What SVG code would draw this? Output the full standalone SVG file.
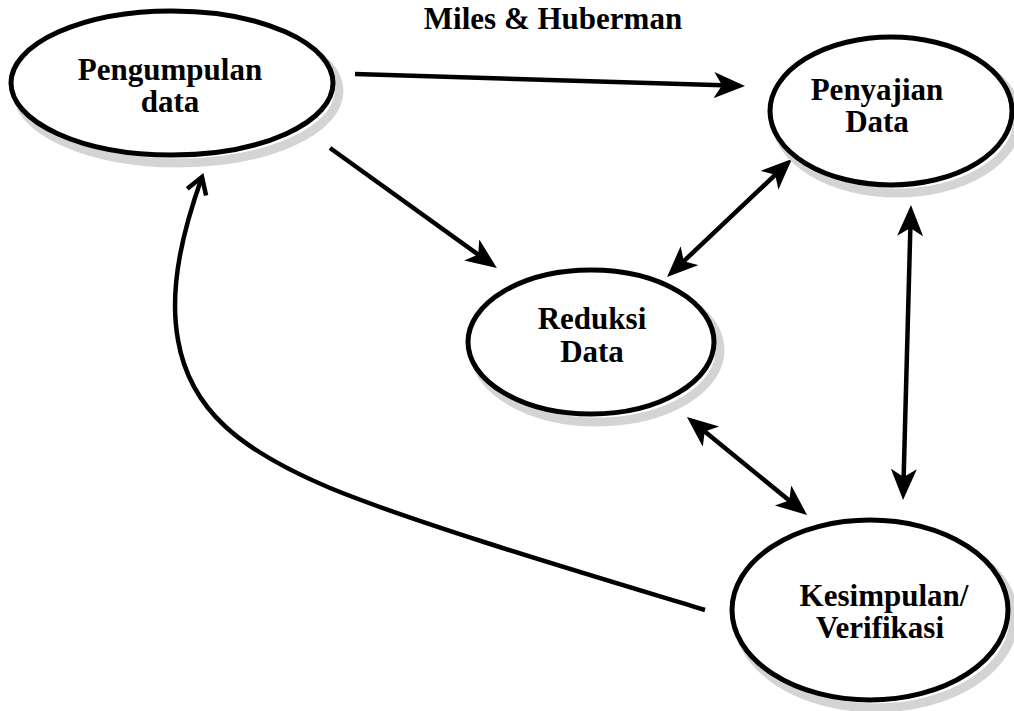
<svg xmlns="http://www.w3.org/2000/svg" width="1014" height="711" viewBox="0 0 1014 711">
<style>
.node{fill:#fff;stroke:#000;stroke-width:5}
.shadow{fill:none;stroke:#d4d4d4;stroke-width:9}
.lbl{font-family:"Liberation Serif","Times New Roman",serif;font-weight:bold;font-size:31px;fill:#000;text-anchor:middle}
.edge{fill:none;stroke:#000;stroke-width:4.5}
</style>
<defs>
<marker id="head" markerUnits="userSpaceOnUse" markerWidth="32" markerHeight="28" refX="25" refY="13" orient="auto-start-reverse" viewBox="0 0 32 28">
<path d="M0,0 L31,13 L0,26 L8,13 Z" fill="#000"/>
</marker>
<marker id="open" markerUnits="userSpaceOnUse" markerWidth="30" markerHeight="30" refX="20" refY="14" orient="auto" viewBox="0 0 30 30">
<path d="M4,4 L20,14 L4,24" fill="none" stroke="#000" stroke-width="4.5" stroke-linejoin="miter"/>
</marker>
</defs>
<rect width="1014" height="711" fill="#fff"/>
<text class="lbl" x="553" y="29">Miles &amp; Huberman</text>
<g id="connectors">
<line class="edge" x1="355" y1="74" x2="739" y2="85.8" marker-end="url(#head)"/>
<line class="edge" x1="330" y1="148" x2="492" y2="264.5" marker-end="url(#head)"/>
<line class="edge" x1="671.4" y1="272.9" x2="787.6" y2="163.1" marker-start="url(#head)" marker-end="url(#head)"/>
<line class="edge" x1="691.6" y1="420.8" x2="802.4" y2="511.2" marker-start="url(#head)" marker-end="url(#head)"/>
<line class="edge" x1="910.8" y1="211" x2="903.2" y2="494" marker-start="url(#head)" marker-end="url(#head)"/>
<path class="edge" d="M705,610 C600,578 420,525 330,488 C240,450 190,410 178,340 C168,285 185,225 202,177" marker-end="url(#open)"/>
</g>
<g id="node-pengumpulan">
<ellipse class="shadow" cx="178" cy="91" rx="161" ry="72"/>
<ellipse class="node" cx="172" cy="83" rx="161" ry="72"/>
<text class="lbl" x="170" y="80">Pengumpulan</text>
<text class="lbl" x="170" y="112">data</text>
</g>
<g id="node-penyajian">
<ellipse class="shadow" cx="897" cy="119" rx="121" ry="74"/>
<ellipse class="node" cx="891" cy="111" rx="121" ry="74"/>
<text class="lbl" x="877" y="100">Penyajian</text>
<text class="lbl" x="877" y="132">Data</text>
</g>
<g id="node-reduksi">
<ellipse class="shadow" cx="597" cy="350" rx="123" ry="72"/>
<ellipse class="node" cx="591" cy="342" rx="123" ry="72"/>
<text class="lbl" x="592" y="329">Reduksi</text>
<text class="lbl" x="592" y="362">Data</text>
</g>
<g id="node-kesimpulan">
<ellipse class="shadow" cx="876" cy="618" rx="138" ry="90"/>
<ellipse class="node" cx="870" cy="610" rx="138" ry="90"/>
<text class="lbl" x="884" y="606">Kesimpulan/</text>
<text class="lbl" x="880" y="638">Verifikasi</text>
</g>
</svg>
